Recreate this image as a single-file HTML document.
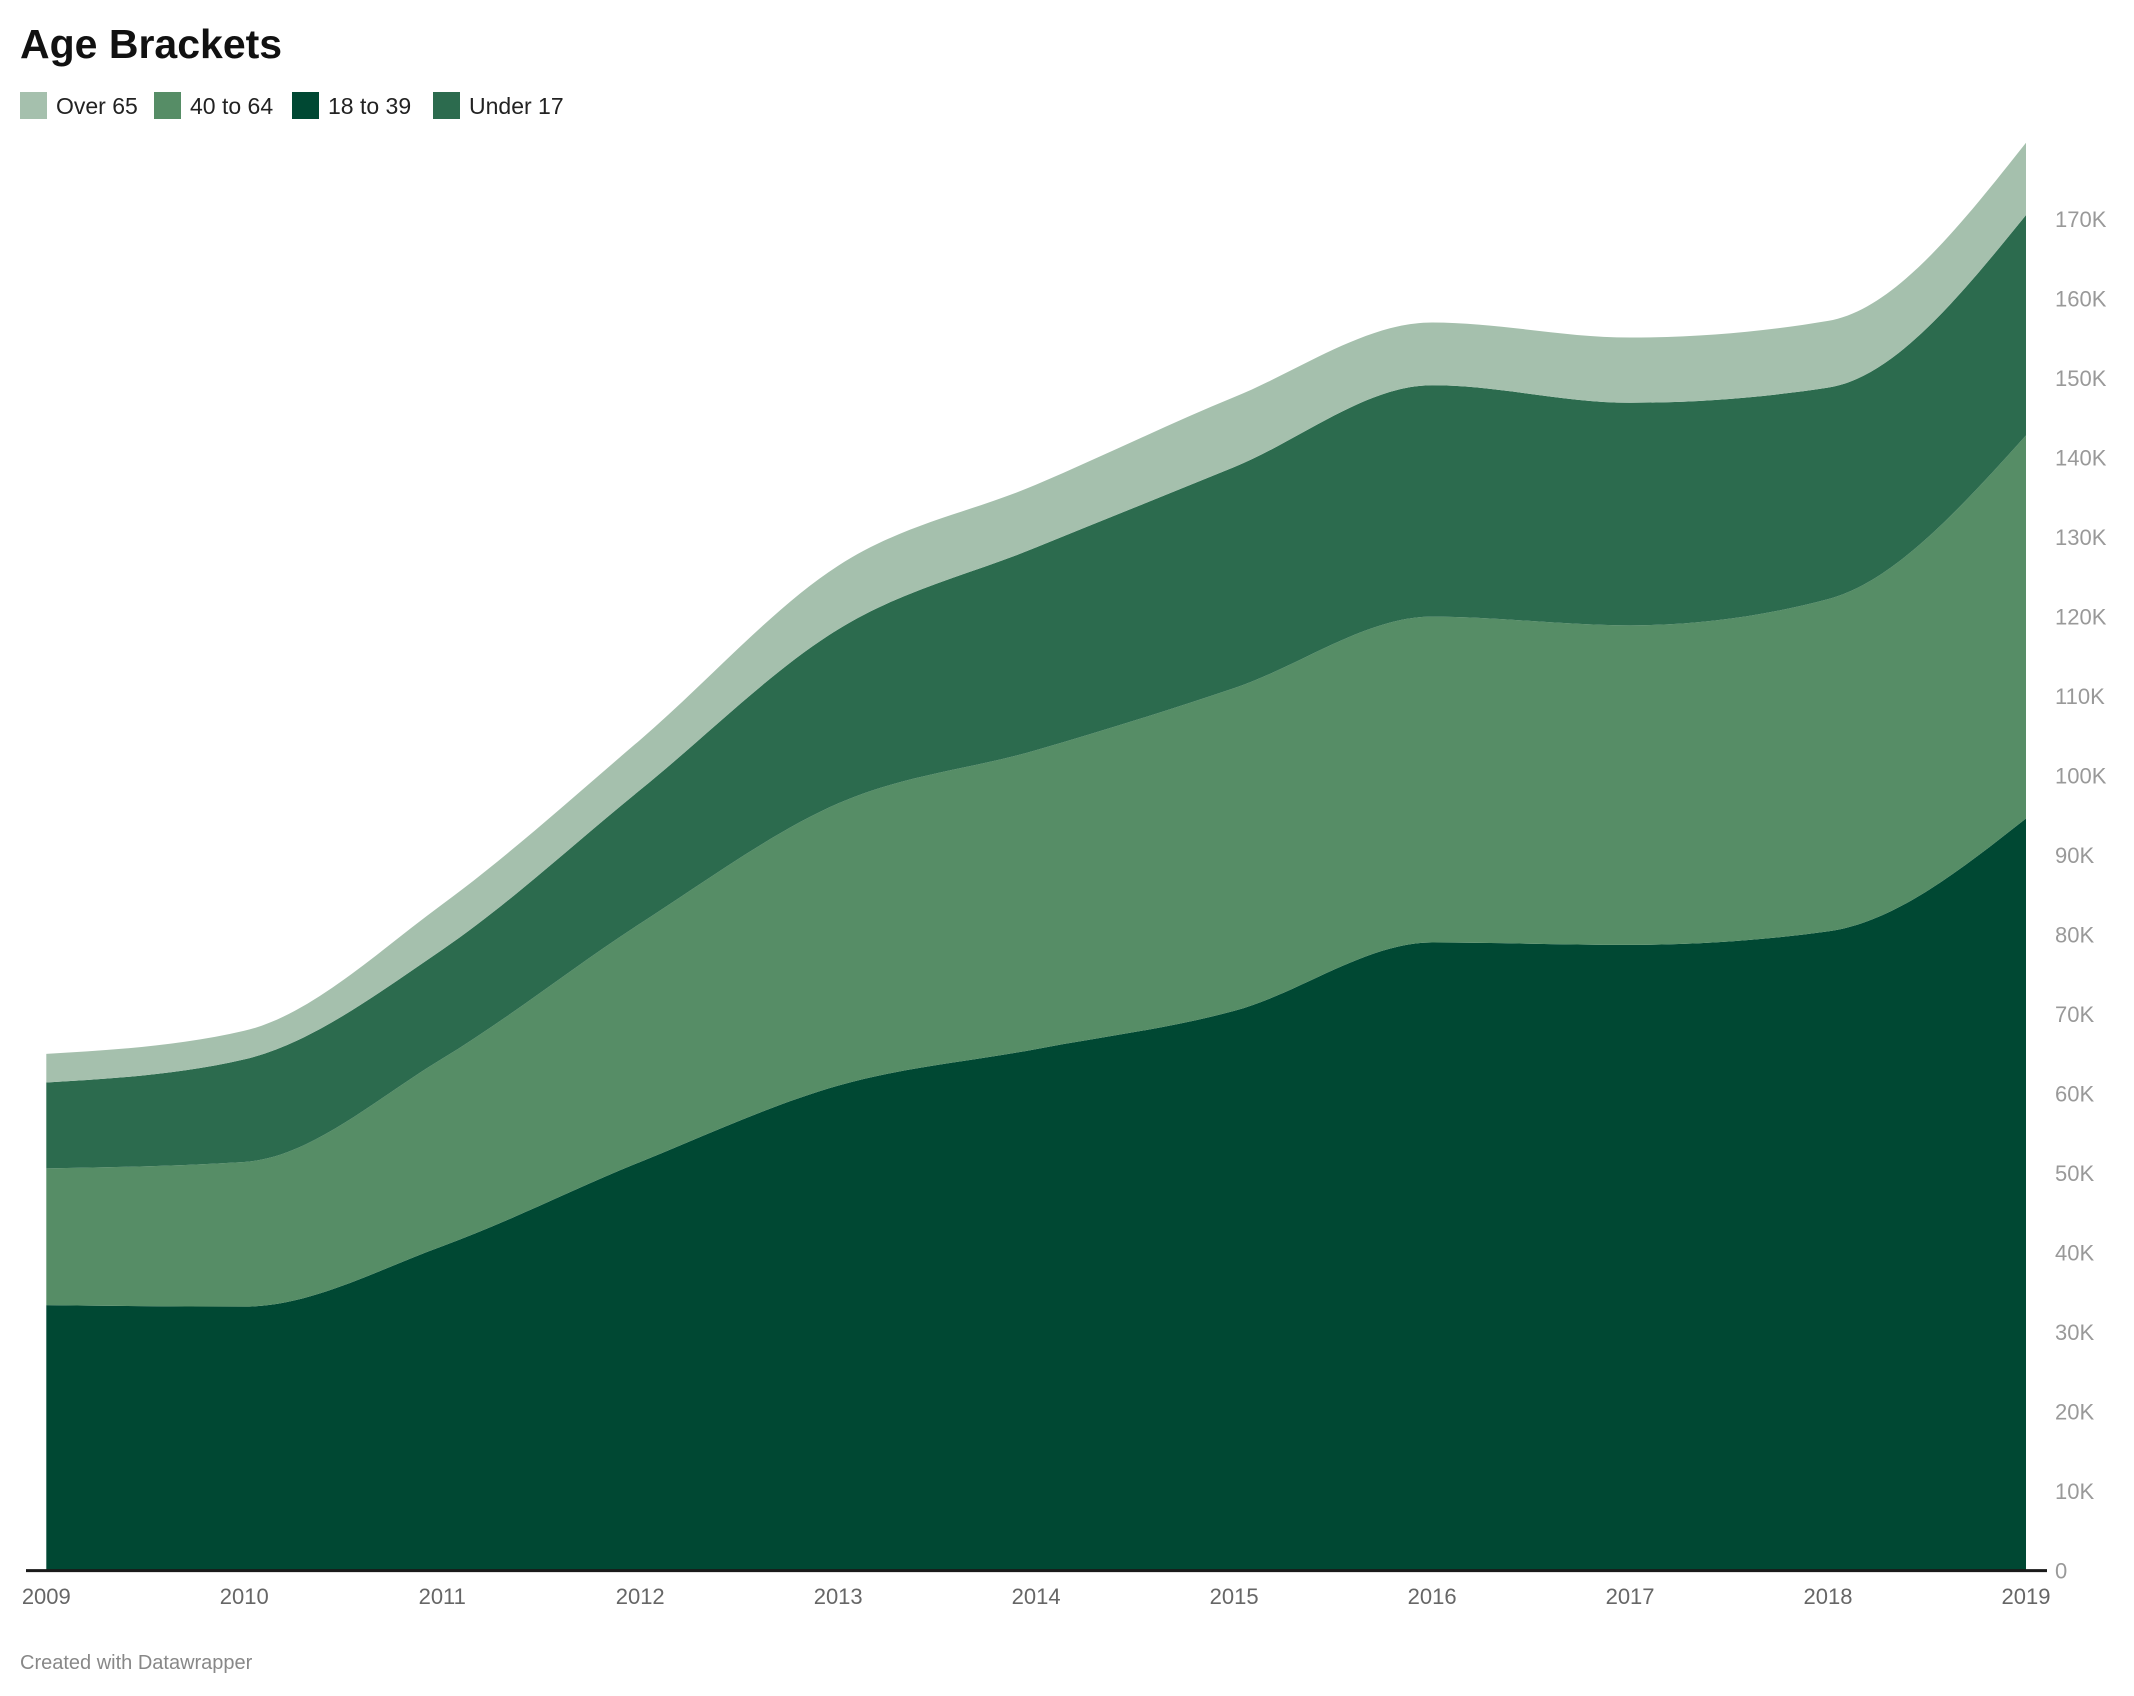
<!DOCTYPE html>
<html><head><meta charset="utf-8"><style>
body{margin:0;background:#fff;font-family:"Liberation Sans",sans-serif;}
#wrap{position:relative;width:2134px;height:1696px;overflow:hidden;}
</style></head><body>
<div id="wrap">
<svg id="chart" width="2134" height="1696">
<text x="20" y="58" font-size="41" font-weight="bold" fill="#111">Age Brackets</text>
<g id="legend"></g>
<g id="areas"></g>
<g id="yaxis"></g>
<g id="xaxis"></g>
<text x="20" y="1669" font-size="20" fill="#888">Created with Datawrapper</text>
</svg>
</div>
<script>
const years = [2009,2010,2011,2012,2013,2014,2015,2016,2017,2018,2019];
const age18to39 = [33.4,33.2,40.8,51.4,61,65.6,70.4,79,78.7,80.4,94.6];
const age40to64 = [17.2,18.2,23.6,30,35.5,37.6,40.6,41,40.2,41.8,48.2];
const under17 = [10.8,12.9,13.7,16.8,21.9,25.5,27.8,29.1,28,26.6,27.7];
const over65 = [3.6,3.6,5.7,6.3,8,7.9,8.8,7.9,8.2,8.4,9.1];
const yTicks = [0,10,20,30,40,50,60,70,80,90,100,110,120,130,140,150,160,170];
const seriesNames = ["18 to 39","40 to 64","Under 17","Over 65"];
const legendNames = ["Over 65","40 to 64","18 to 39","Under 17"];

const colors = {"Over 65":"#a5c0ad","40 to 64":"#568d66","18 to 39":"#004833","Under 17":"#2c6b4e"};
const NS="http://www.w3.org/2000/svg";
const X0=46.3,X1=2026,Y0=1570.6,PER10=79.5;
const x=i=>X0+(years[i]-years[0])/(years[years.length-1]-years[0])*(X1-X0);
const y=v=>Y0-v*PER10/10;
function el(t,a){const e=document.createElementNS(NS,t);for(const k in a)e.setAttribute(k,a[k]);return e;}

function monotonePath(pts){
  const n=pts.length;const d=[],m=[];
  for(let i=0;i<n-1;i++)d.push((pts[i+1][1]-pts[i][1])/(pts[i+1][0]-pts[i][0]));
  for(let i=0;i<n;i++){
    if(i===0)m.push(d[0]);else if(i===n-1)m.push(d[n-2]);
    else{ if(d[i-1]*d[i]<=0)m.push(0);else{const h0=pts[i][0]-pts[i-1][0],h1=pts[i+1][0]-pts[i][0];
      const p=(d[i-1]*h1+d[i]*h0)/(h0+h1);
      let s=(Math.sign(d[i-1])+Math.sign(d[i]))*Math.min(Math.abs(d[i-1]),Math.abs(d[i]),0.5*Math.abs(p));m.push(s);} }
  }
  m[0]=(3*d[0]-m[1])/2; m[n-1]=(3*d[n-2]-m[n-2])/2;
  let s="";
  for(let i=0;i<n-1;i++){const h=(pts[i+1][0]-pts[i][0])/3;
    s+=` C${pts[i][0]+h},${pts[i][1]+m[i]*h} ${pts[i+1][0]-h},${pts[i+1][1]-m[i+1]*h} ${pts[i+1][0]},${pts[i+1][1]}`;}
  return s;
}

const data=[age18to39,age40to64,under17,over65];
const areas=document.getElementById('areas');
let base=years.map(()=>0);
data.forEach((vals,si)=>{
  const top=vals.map((v,i)=>base[i]+v);
  const tp=top.map((v,i)=>[x(i),y(v)]);
  const bp=base.map((v,i)=>[x(i),y(v)]).reverse();
  const d="M"+tp[0][0]+","+tp[0][1]+monotonePath(tp)+" L"+bp[0][0]+","+bp[0][1]+monotonePath(bp)+" Z";
  const p=el('path',{d:d,fill:colors[seriesNames[si]]});
  
  
  areas.appendChild(p);
  base=top;
});

const ya=document.getElementById('yaxis');
yTicks.forEach(t=>{
  const tx=el('text',{x:2055,y:y(t)+8,'font-size':22,fill:'#999'});
  tx.textContent=t===0?'0':t+'K';
  
  
  ya.appendChild(tx);
});
const xa=document.getElementById('xaxis');
const line=el('line',{x1:26,x2:2047,y1:Y0,y2:Y0,stroke:'#1a1a1a','stroke-width':3});


xa.appendChild(line);
years.forEach((yr,i)=>{
  const tx=el('text',{x:x(i),y:1604,'font-size':22,fill:'#666','text-anchor':'middle'});
  tx.textContent=yr;
  
  
  xa.appendChild(tx);
});

const lg=document.getElementById('legend');
const lx=[20,154,292,433];
legendNames.forEach((n,i)=>{
  const r=el('rect',{x:lx[i],y:92,width:27,height:27,fill:colors[n]});
  
  
  lg.appendChild(r);
  const t=el('text',{x:lx[i]+36,y:114,'font-size':23,fill:'#222'});
  t.textContent=n;
  
  
  lg.appendChild(t);
});
</script>
</body></html>
